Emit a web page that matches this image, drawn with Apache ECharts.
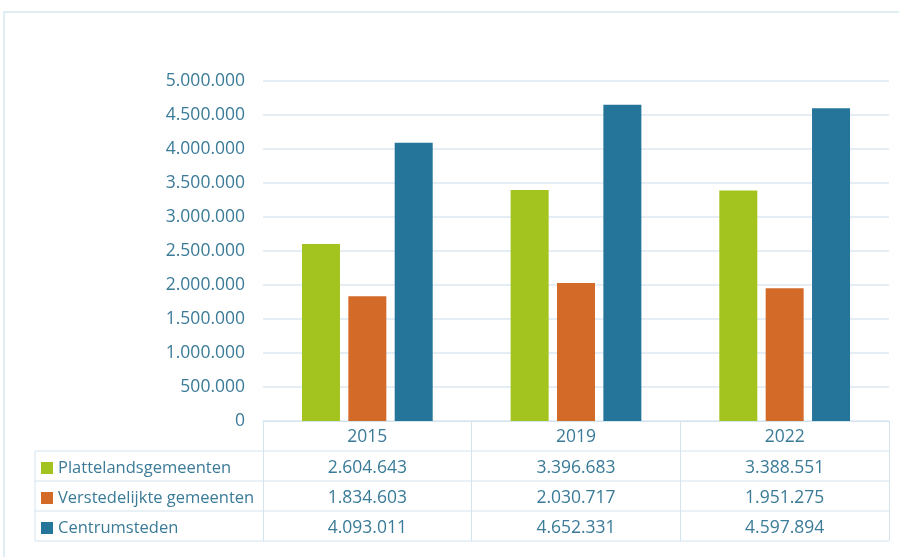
<!DOCTYPE html>
<html><head><meta charset="utf-8">
<script src="https://cdn.jsdelivr.net/npm/echarts@6/dist/echarts.min.js"></script>
<style>html,body{margin:0;padding:0;background:#fff}#c{width:899px;height:557px}</style>
</head><body><div id="c"></div>
<script>
var years = ['2015', '2019', '2022'];
var seriesNames = ['Plattelandsgemeenten', 'Verstedelijkte gemeenten', 'Centrumsteden'];
var platteland = [2604643, 3396683, 3388551];
var verstedelijkt = [1834603, 2030717, 1951275];
var centrum = [4093011, 4652331, 4597894];
var yTicks = [0, 500000, 1000000, 1500000, 2000000, 2500000, 3000000, 3500000, 4000000, 4500000, 5000000];

var colors = ['#a3c41f', '#d46a27', '#247599'];
var txt = '#3b7b98';
var lineC = '#d3e4ee';
function fmt(n){ return String(n).replace(/\B(?=(\d{3})+(?!\d))/g, '.'); }

var allData = [platteland, verstedelijkt, centrum];
var chart = echarts.init(document.getElementById('c'));
var font = '"Open Sans", sans-serif';
var numSize = 17.5;

var xAxes = [{
  type: 'category', data: years, gridIndex: 0,
  axisLine: {show: true, lineStyle: {color: lineC}},
  axisTick: {show: true, length: 120, lineStyle: {color: lineC}},
  axisLabel: {color: txt, fontSize: numSize, fontFamily: font, margin: 7}
}];
allData.forEach(function(arr, i){
  xAxes.push({
    type: 'category', data: arr.map(fmt), gridIndex: 0, position: 'bottom', offset: 30*(i+1),
    axisLine: {show: false}, axisTick: {show: false},
    axisLabel: {color: txt, fontSize: numSize, fontFamily: font, margin: 8}
  });
});

var option = {
  backgroundColor: '#fff',
  animation: false,
  grid: {left: 263, right: 10, top: 81, bottom: 136},
  xAxis: xAxes,
  yAxis: {
    type: 'value', min: yTicks[0], max: yTicks[yTicks.length-1], interval: 500000,
    axisLine: {show: false}, axisTick: {show: false},
    splitLine: {lineStyle: {color: '#dde9f1', width: 1.5}},
    axisLabel: {color: txt, fontSize: numSize, fontFamily: font, margin: 18, formatter: function(v){ return fmt(v); }}
  },
  legend: {
    orient: 'vertical', left: 36, top: 453, itemGap: 10,
    itemWidth: 12, itemHeight: 12, icon: 'rect',
    textStyle: {color: txt, fontSize: 16.5, fontFamily: font, lineHeight: 20},
    data: seriesNames
  },
  color: colors,
  series: allData.map(function(arr, i){
    return {
      type: 'bar', name: seriesNames[i], data: arr, xAxisIndex: 0,
      barWidth: 38, barGap: '22%'
    };
  }),
  graphic: [
    {type: 'rect', shape: {x: 4, y: 12, width: 1000, height: 600}, style: {fill: 'none', stroke: '#d8e7f0', lineWidth: 1.5}, silent: true},
    {type: 'line', shape: {x1: 35, y1: 451, x2: 889, y2: 451}, style: {stroke: lineC, lineWidth: 1}},
    {type: 'line', shape: {x1: 35, y1: 481, x2: 889, y2: 481}, style: {stroke: lineC, lineWidth: 1}},
    {type: 'line', shape: {x1: 35, y1: 511, x2: 889, y2: 511}, style: {stroke: lineC, lineWidth: 1}},
    {type: 'line', shape: {x1: 35, y1: 541, x2: 889, y2: 541}, style: {stroke: lineC, lineWidth: 1}},
    {type: 'line', shape: {x1: 35, y1: 451, x2: 35, y2: 541}, style: {stroke: lineC, lineWidth: 1}}
  ]
};
chart.setOption(option);
</script></body></html>
